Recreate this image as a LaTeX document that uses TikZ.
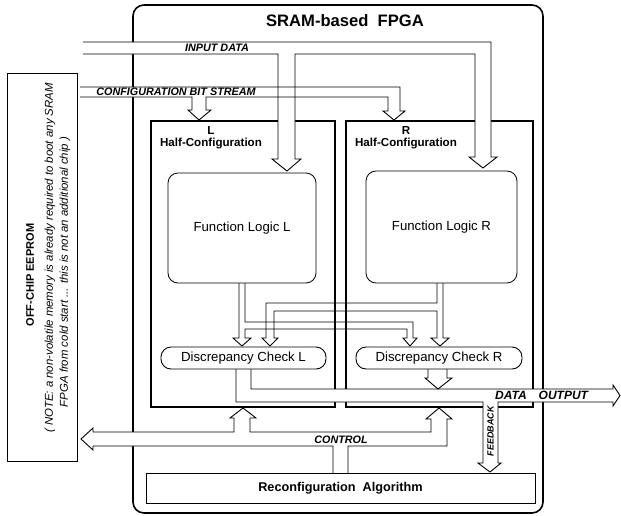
\documentclass[tikz,border=0pt]{standalone}
\usepackage{fontspec}
\setmainfont{Liberation Sans}
\begin{document}
\begin{tikzpicture}[x=1pt,y=-1pt,
  thinl/.style={line width=0.9pt, line join=miter},
  box/.style={draw, line width=0.9pt, inner sep=0pt, fill=white},
  halfbox/.style={draw, line width=2.6pt, inner sep=0pt},
  buslabel/.style={font=\fontsize{10.8}{12}\selectfont\bfseries\itshape, inner sep=0pt},
  plain/.style={font=\fontsize{13.2}{15}\selectfont},
  boldt/.style={font=\fontsize{12.7}{15}\selectfont\bfseries},
  hlab/.style={font=\fontsize{11.6}{12.5}\selectfont\bfseries, align=center, inner sep=0pt},
  notetxt/.style={font=\fontsize{11.4}{13}\selectfont\itshape, inner sep=0pt, rotate=90}]
\useasboundingbox (0,0) rectangle (621,515);

% FPGA outline
\node[draw, line width=1.6pt, rounded corners=11pt, minimum width=410pt, minimum height=508pt, inner sep=0pt] (fpga) at (338,259) {};
\node[font=\fontsize{16.6}{18}\selectfont\bfseries, inner sep=0pt] (title) at (345,21) {SRAM-based\ \ FPGA};

% cross connections from function logic to discrepancy checks
\draw[thinl] (239,283) -- (239,338) -- (233,338) -- (242,346) -- (251,338) -- (245,338) -- (245,329) -- (407,329) -- (407,338) -- (403,338) -- (410,346) -- (417,338) -- (413,338) -- (413,322) -- (245,322) -- (245,283);
\draw[thinl] (443,283) -- (443,338) -- (449,338) -- (440,346) -- (431,338) -- (437,338) -- (437,311) -- (274,311) -- (274,338) -- (278,338) -- (270,346) -- (262,338) -- (266,338) -- (266,303) -- (437,303) -- (437,283);

% half configurations
\node[halfbox, minimum width=184pt, minimum height=286pt] (Lbox) at (243,264) {};
\node[halfbox, minimum width=187pt, minimum height=286pt] (Rbox) at (439.5,264) {};

% input data and configuration buses
\def\inpath{(83,54) -- (278,54) -- (278,159) -- (272,159) -- (287,171) -- (301,159) -- (295,159) -- (295,54) -- (475,54) -- (475,157) -- (469,157) -- (483,168) -- (497,157) -- (491,157) -- (491,42) -- (83,42)}
\def\cfgpath{(80,97) -- (192,97) -- (192,110) -- (188,110) -- (199,120) -- (211,110) -- (206,110) -- (206,97) -- (388,97) -- (388,111) -- (383,111) -- (394,120) -- (405,111) -- (400,111) -- (400,87) -- (80,87)}
\fill[white] \inpath;
\fill[white] \cfgpath;
\draw[thinl] \inpath;
\draw[thinl] \cfgpath;

% data output band with feedback
\filldraw[thinl, fill=white] (251,369) -- (251,389) -- (613,389) -- (613,385) -- (620,395.5) -- (613,406) -- (613,402) -- (498,402) -- (498,463) -- (501,463) -- (490,472) -- (478,463) -- (483,463) -- (483,402) -- (236,402) -- (236,369);
\filldraw[thinl, fill=white] (428,369) -- (428,378) -- (425,378) -- (438,389) -- (452,378) -- (447,378) -- (447,369);

% control bus
\filldraw[thinl, fill=white] (333,473) -- (333,446) -- (93,446) -- (93,450) -- (81,439) -- (93,428) -- (93,432) -- (234,432) -- (234,418) -- (230,418) -- (243,408) -- (256,418) -- (250,418) -- (250,432) -- (431,432) -- (431,419) -- (426,419) -- (439,408) -- (452,419) -- (447,419) -- (447,446) -- (348,446) -- (348,473);

% blocks
\node[box, line width=0.8pt, rounded corners=10pt, minimum width=148pt, minimum height=110pt, plain] (FLL) at (242,228) {Function Logic L};
\node[box, line width=0.8pt, rounded corners=10pt, minimum width=151pt, minimum height=112pt, plain] (FLR) at (441.5,227) {Function Logic R};
\node[box, rounded corners=10pt, minimum width=165pt, minimum height=22pt, plain] (DCL) at (243.5,358) {Discrepancy Check L};
\node[box, rounded corners=10pt, minimum width=166pt, minimum height=22pt, plain] (DCR) at (439,358) {Discrepancy Check R};
\node[box, minimum width=389pt, minimum height=30pt, boldt] (reconf) at (340.5,488) {Reconfiguration\ \ Algorithm};

\node[hlab] (Llab) at (211,137.5) {L\\Half-Configuration};
\node[hlab] (Rlab) at (406,137.5) {R\\Half-Configuration};

% EEPROM
\node[box, minimum width=70pt, minimum height=388pt] (eeprom) at (42,267) {};
\node[font=\fontsize{11}{13}\selectfont\bfseries, inner sep=0pt, rotate=90] (eetitle) at (30,275) {OFF-CHIP EEPROM};
\node[notetxt] (note1) at (50,258) {( NOTE: a non-volatile memory is already required to boot any SRAM};
\node[notetxt] (note2) at (65,272) {FPGA from cold start ... this is not an additional chip )};

% bus labels
\node[buslabel] (inlbl) at (217,48) {INPUT DATA};
\node[buslabel] (cfglbl) at (176,92) {CONFIGURATION BIT STREAM};
\node[buslabel, font=\fontsize{12}{13}\selectfont\bfseries\itshape, anchor=west] (outlbl) at (495,395.5) {DATA\quad OUTPUT};
\node[buslabel] (ctllbl) at (341,440) {CONTROL};
\node[buslabel, font=\fontsize{9}{11}\selectfont\bfseries\itshape, rotate=90] (fblbl) at (490.5,431) {FEEDBACK};
\end{tikzpicture}
\end{document}
